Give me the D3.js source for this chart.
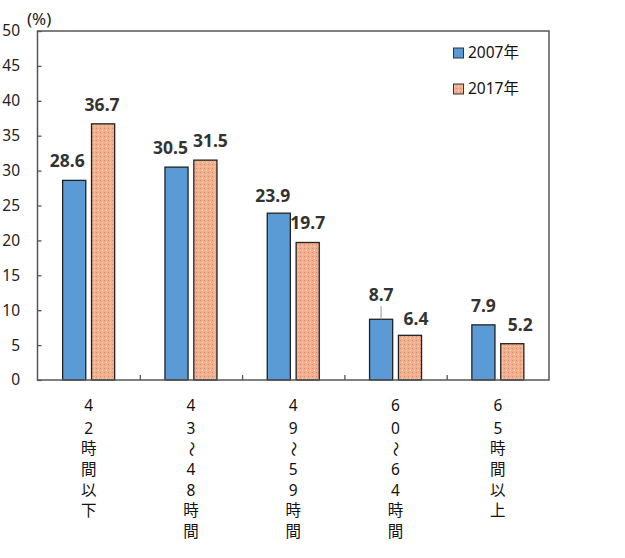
<!DOCTYPE html>
<html><head><meta charset="utf-8">
<script src="https://cdn.jsdelivr.net/npm/d3@7/dist/d3.min.js"></script>
<style>body{margin:0;background:#fff;} svg{display:block;}</style>
</head><body><svg id="chart" width="625" height="558"></svg>
<script>
const categories = ["42時間以下", "43～48時間", "49～59時間", "60～64時間", "65時間以上"];
const series = ["2007年", "2017年"];
const values2007 = [28.6, 30.5, 23.9, 8.7, 7.9];
const values2017 = [36.7, 31.5, 19.7, 6.4, 5.2];
const yTicks = [0, 5, 10, 15, 20, 25, 30, 35, 40, 45, 50];

// layout nudges for value labels (px), mimicking the hand-placed labels
const nudge2007 = [[-7, 0], [-6, 0], [-6, 2], [0, -5], [0, 0]];
const nudge2017 = [[-1, 0], [5, 0], [0, 0], [6, 3], [8, 0]];

const svg = d3.select("#chart");
const m = {left: 37.5, top: 31, right: 549, bottom: 380};
const font = "'Noto Sans', 'Noto Sans CJK JP', sans-serif";

const x0 = d3.scaleBand().domain(categories).range([m.left, m.right]).paddingInner(0).paddingOuter(0);
const x1 = d3.scaleBand().domain(series).range([x0.bandwidth()/2 - 26, x0.bandwidth()/2 + 26]).paddingInner(0.2);
const y = d3.scaleLinear().domain([0, 50]).range([m.bottom, m.top]);

// pattern
const defs = svg.append("defs");
const pat = defs.append("pattern").attr("id", "dots").attr("patternUnits", "userSpaceOnUse")
  .attr("width", 4).attr("height", 4);
pat.append("rect").attr("width", 4).attr("height", 4).attr("fill", "#EFB08A");
pat.append("rect").attr("x", 0).attr("y", 0).attr("width", 1).attr("height", 1).attr("fill", "#E4857A");
pat.append("rect").attr("x", 2).attr("y", 2).attr("width", 1).attr("height", 1).attr("fill", "#F8D8C4");

const fills = ["#5B9BD5", "url(#dots)"];
const data = [values2007, values2017];
const nudges = [nudge2007, nudge2017];

// bars
categories.forEach((c, i) => {
  series.forEach((s, j) => {
    const v = data[j][i];
    const bx = x0(c) + x1(s);
    svg.append("rect")
      .attr("x", bx).attr("y", y(v))
      .attr("width", x1.bandwidth()).attr("height", y(0) - y(v))
      .attr("fill", fills[j]).attr("stroke", "#222").attr("stroke-width", 1.3);
    const [dx, dy] = nudges[j][i];
    const lx = bx + x1.bandwidth()/2 + dx;
    const ly = y(v) - 13 + dy;
    svg.append("text").attr("x", lx).attr("y", ly)
      .attr("text-anchor", "middle").attr("font-family", font).attr("font-weight", "bold")
      .attr("font-size", 17.5).attr("fill", "#333").text(v.toFixed(1));
    if (dy < -3) {
      svg.append("line").attr("x1", lx).attr("x2", lx).attr("y1", ly + 5).attr("y2", y(v))
        .attr("stroke", "#999").attr("stroke-width", 1);
    }
  });
});

// frame
svg.append("rect").attr("x", m.left).attr("y", m.top)
  .attr("width", m.right - m.left).attr("height", m.bottom - m.top)
  .attr("fill", "none").attr("stroke", "#555").attr("stroke-width", 1.5);

// y axis
const yAxis = d3.axisRight(y).tickValues(yTicks).tickSize(4).tickFormat("");
const ya = svg.append("g").attr("transform", `translate(${m.left},0)`).call(yAxis);
ya.select(".domain").remove();
ya.selectAll("line").attr("stroke", "#555").attr("stroke-width", 1.3);
yTicks.forEach(t => {
  svg.append("text").attr("x", 20).attr("y", y(t)).attr("dy", "0.35em")
    .attr("text-anchor", "end").attr("font-family", font).attr("font-size", 15.5)
    .attr("fill", "#222").text(t);
});
svg.append("text").attr("x", 27).attr("y", 25).attr("font-family", font)
  .attr("font-size", 17).attr("fill", "#222").text("(%)");

// x axis ticks (between groups, inward)
const xa = svg.append("g").attr("transform", `translate(0,${m.bottom})`)
  .call(d3.axisTop(d3.scaleLinear().domain([0, categories.length]).range([m.left, m.right]))
    .tickValues(d3.range(1, categories.length)).tickSize(5).tickFormat(""));
xa.select(".domain").remove();
xa.selectAll("line").attr("stroke", "#555").attr("stroke-width", 1.3);

// category labels (vertical)
categories.forEach(c => {
  const cx = x0(c) + x0.bandwidth()/2;
  Array.from(c).forEach((ch, k) => {
    const cy = 406 + k * 20.7 + (k > 0 ? 1.5 : 0);
    const t = svg.append("text").attr("font-family", font).attr("font-size", 15.5)
      .attr("fill", "#111").attr("text-anchor", "middle").attr("dy", "0.35em");
    if (ch === "～") {
      t.attr("transform", `translate(${cx},${cy}) rotate(90)`).text(ch);
    } else {
      t.attr("x", cx).attr("y", cy).text(ch);
    }
  });
});

// legend
const legFills = ["#5B9BD5", "url(#dots)"];
series.forEach((s, j) => {
  const ly = 53 + j * 36;
  svg.append("rect").attr("x", 453.5).attr("y", ly - 5).attr("width", 10).attr("height", 10)
    .attr("fill", legFills[j]).attr("stroke", "#333").attr("stroke-width", 1);
  svg.append("text").attr("x", 468).attr("y", ly).attr("dy", "0.35em")
    .attr("font-family", font).attr("font-size", 15.5).attr("fill", "#111").text(s);
});
</script></body></html>
